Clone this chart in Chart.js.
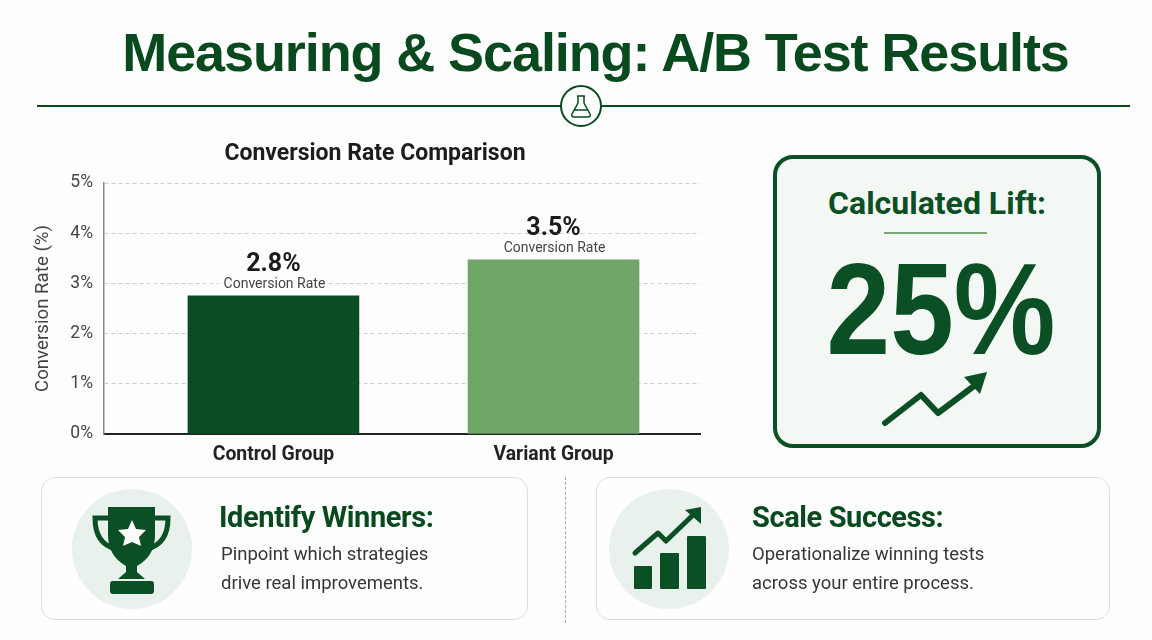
<!DOCTYPE html>
<html>
<head>
<meta charset="utf-8">
<script src="https://cdn.jsdelivr.net/npm/chart.js@4"></script>
<style>
  html, body { margin: 0; padding: 0; background: #fefefe; }
  #page { position: relative; width: 1152px; height: 640px; overflow: hidden; font-family: Roboto, sans-serif; }
  #page > * { position: absolute; }
  h1 { margin: 0; left: 0; width: 1191px; top: 20px; text-align: center; font: bold 54px/64px "Liberation Sans", sans-serif; letter-spacing: -1.1px; color: #084a1e; }
  .rule { left: 37px; top: 105px; width: 1093px; height: 2px; background: #084a1e; }
  #chartBox { left: 28px; top: 135px; }
  .chart-title { left: 175px; width: 400px; top: 139px; text-align: center; font: bold 23px/28px Roboto, sans-serif; color: #1c1c1c; }
  .lift { left: 773px; top: 155px; width: 320px; height: 285px; border: 4px solid #0b4f24; border-radius: 20px; background: #f4f8f5; }
  .lift-title { left: 773px; width: 328px; top: 183px; text-align: center; font: bold 32px/40px Roboto, sans-serif; color: #0b4f24; }
  .lift-rule { left: 884px; top: 232px; width: 103px; height: 2px; background: #79a877; }
  .lift-num { left: 777px; width: 328px; top: 239px; text-align: center; font: bold 130px/140px "Liberation Sans", sans-serif; color: #0b4f24; transform: scaleX(0.88); }
  .card { top: 477px; height: 141px; border: 1.5px solid #dcdfdc; border-radius: 14px; background: #fefefe; }
  .card-title { font: bold 29px/38px Roboto, sans-serif; letter-spacing: -0.4px; color: #084a1e; top: 498px; white-space: nowrap; }
  .card-body { font: 18.5px/29px Roboto, sans-serif; color: #343835; top: 540px; white-space: nowrap; }
  .divider { left: 565px; top: 477px; height: 146px; width: 0; border-left: 1px dashed #aaa; }
</style>
</head>
<body>
<div id="page">
  <h1>Measuring &amp; Scaling: A/B Test Results</h1>
  <div class="rule"></div>
  <svg style="left:0;top:0" width="1152" height="640">
    <circle cx="581" cy="106" r="20" fill="#fefefe" stroke="#084a1e" stroke-width="2"/>
    <path d="M577 96h8M578 96v7l-6 11q-1 3 2 3h14q3 0 2-3l-6-11v-7M574 110h14" fill="none" stroke="#084a1e" stroke-width="1.5"/>
  </svg>
  <div id="chartBox"><canvas id="mainChart" width="694" height="330"></canvas></div>
  <div class="chart-title">Conversion Rate Comparison</div>

  <div class="lift"></div>
  <div class="lift-title">Calculated Lift:</div>
  <div class="lift-rule"></div>
  <div class="lift-num">25%</div>
  <svg style="left:0;top:0" width="1152" height="640">
    <path d="M885 423L921 395L938 413L974 386" fill="none" stroke="#0b4f24" stroke-width="6" stroke-linecap="round" stroke-linejoin="round"/>
    <path d="M987 372L964 377L980 394Z" fill="#0b4f24"/>
  </svg>

  <div class="card" style="left:41px;width:485px"></div>
  <div class="divider"></div>
  <div class="card" style="left:596px;width:512px"></div>
  <svg style="left:0;top:0" width="1152" height="640">
    <circle cx="132" cy="549" r="60" fill="#e9f1ec"/>
    <circle cx="669" cy="549" r="60" fill="#e9f1ec"/>
    <!-- trophy -->
    <path d="M108 518H95q0 26 21 31M155 518H168q0 26 -21 31" fill="none" stroke="#0b4f24" stroke-width="5"/>
    <path d="M108 507H155V535Q155 556 137 566V572L145 579H118L126 572V566Q108 556 108 535Z" fill="#0b4f24"/>
    <rect x="110" y="581" width="44" height="13" rx="3" fill="#0b4f24"/>
    <path d="M132 520L136 529L146 530L139 537L141 546L132 542L123 546L125 537L118 530L128 529Z" fill="#fefefe"/>
    <!-- growth -->
    <rect x="634" y="566" width="18" height="23" rx="1" fill="#0b4f24"/>
    <rect x="660" y="553" width="19" height="36" rx="1" fill="#0b4f24"/>
    <rect x="687" y="536" width="19" height="53" rx="1" fill="#0b4f24"/>
    <path d="M635 553L658 533L666 541L693 515" fill="none" stroke="#0b4f24" stroke-width="5" stroke-linecap="round" stroke-linejoin="round"/>
    <path d="M701 507L685 510L701 524Z" fill="#0b4f24"/>
  </svg>
  <div class="card-title" style="left:219px">Identify Winners:</div>
  <div class="card-body" style="left:221px">Pinpoint which strategies<br>drive real improvements.</div>
  <div class="card-title" style="left:752px">Scale Success:</div>
  <div class="card-body" style="left:752px">Operationalize winning tests<br>across your entire process.</div>
</div>

<script>
const groups      = ['Control Group', 'Variant Group'];
const groupSlots  = [1, 2];
const rates       = [2.75, 3.47];
const rateLabels  = ['2.8%', '3.5%'];
const barColors   = ['#0b4d22', '#6fa668'];
const yTicks      = [0, 1, 2, 3, 4, 5];

// value + caption above each bar, the caption knocks out the gridline behind it
const barLabels = {
  id: 'barLabels',
  afterDatasetsDraw(chart) {
    const { ctx } = chart;
    const bars = chart.getDatasetMeta(0).data;
    ctx.save();
    ctx.textAlign = 'center';
    ctx.textBaseline = 'middle';
    bars.forEach((bar, i) => {
      ctx.font = '14px Roboto';
      const w = ctx.measureText('Conversion Rate').width + 8;
      ctx.fillStyle = '#fefefe';
      ctx.fillRect(bar.x - w / 2, bar.y - 19, w, 17);
      ctx.fillStyle = '#444';
      ctx.fillText('Conversion Rate', bar.x + 1, bar.y - 11);
      ctx.font = 'bold 25px Roboto';
      ctx.fillStyle = '#1c1c1c';
      ctx.fillText(rateLabels[i], bar.x, bar.y - 31);
    });
    ctx.restore();
  },
};

new Chart(document.getElementById('mainChart').getContext('2d'), {
  type: 'bar',
  data: {
    datasets: [{
      data: groupSlots.map((x, i) => ({ x, y: rates[i] })),
      backgroundColor: barColors,
      barThickness: 171,
    }],
  },
  plugins: [barLabels],
  options: {
    responsive: false, animation: false,
    layout: { padding: { top: 48, right: 22 } },
    plugins: {
      legend: { display: false },
      tooltip: { enabled: false },
    },
    scales: {
      x: {
        type: 'linear', min: 0.395, max: 2.523, offset: false,
        afterBuildTicks: s => { s.ticks = groupSlots.map(value => ({ value })); },
        afterFit: s => { s.height = 31; },
        grid: { display: false, drawTicks: false },
        border: { color: '#222', width: 2 },
        ticks: {
          color: '#222', padding: 10, autoSkip: false, maxRotation: 0,
          font: { family: 'Roboto', size: 19.4, weight: 'bold' },
          callback: v => groups[groupSlots.indexOf(v)],
        },
      },
      y: {
        min: 0, max: 5,
        afterBuildTicks: s => { s.ticks = yTicks.map(value => ({ value })); },
        afterFit: s => { s.width = 76; },
        grid: { color: '#cfcfcf', drawTicks: false },
        border: { color: '#888', width: 1.5, dash: [4, 3] },
        ticks: {
          color: '#444', padding: 11,
          font: { family: 'Roboto', size: 17.5 },
          callback: v => `${v}%`,
        },
        title: {
          display: true, text: 'Conversion Rate (%)', color: '#444',
          font: { family: 'Roboto', size: 18.7 },
          padding: { top: 4, bottom: 0 },
        },
      },
    },
  },
});
</script>
</body>
</html>
